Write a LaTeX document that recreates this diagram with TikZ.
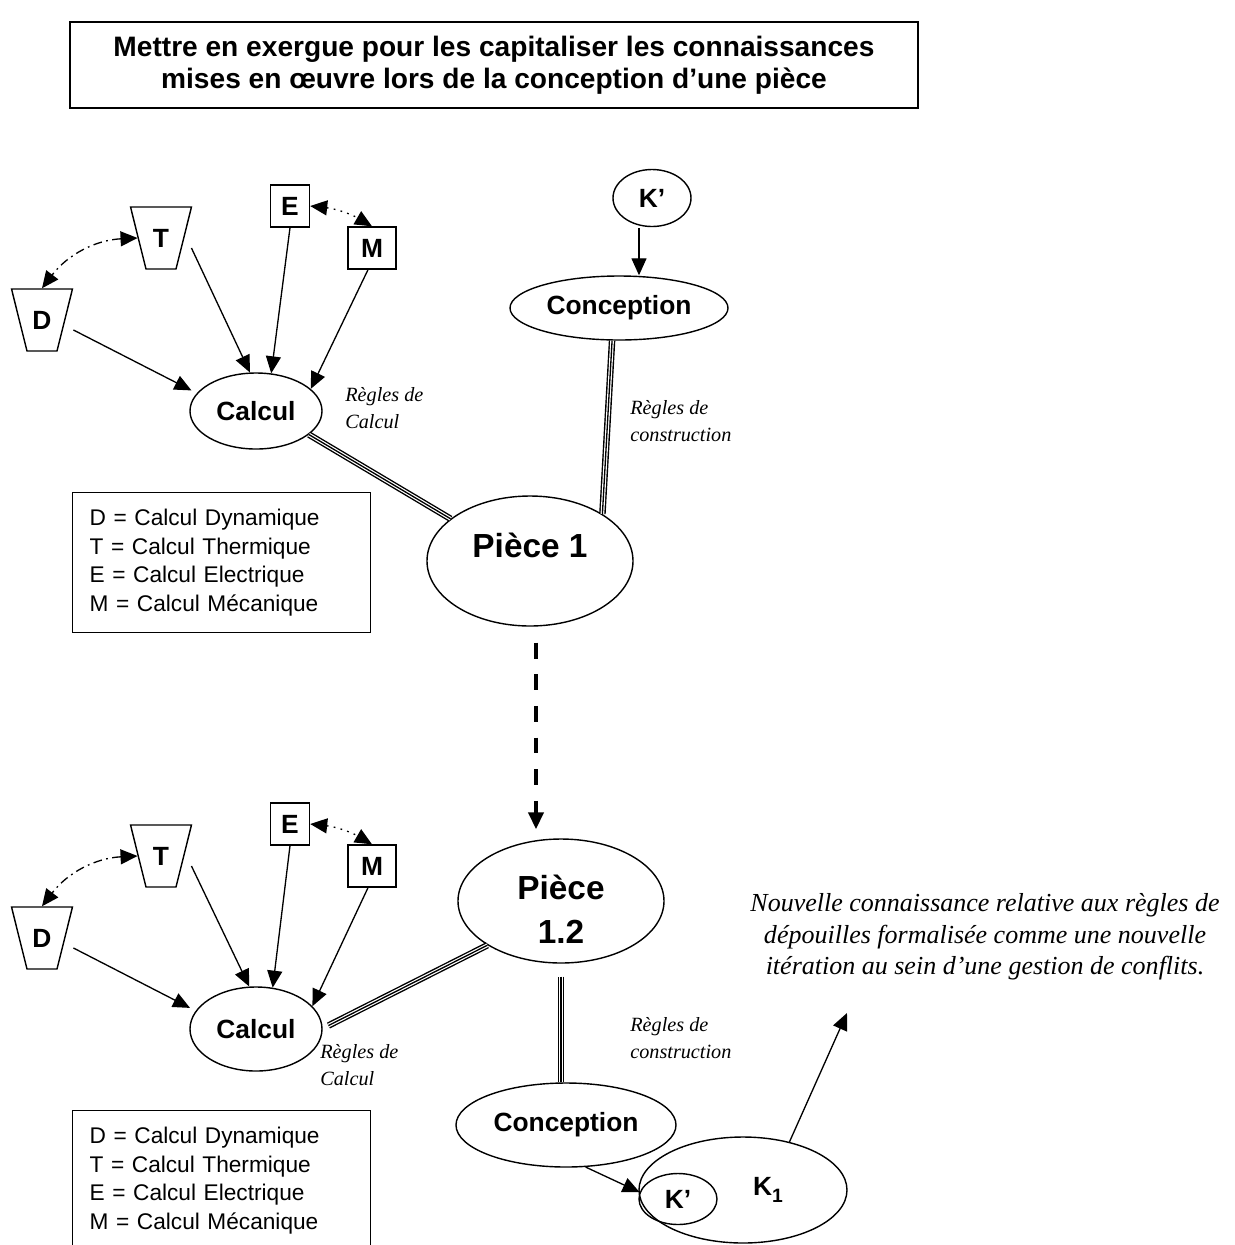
\documentclass[tikz,border=0pt]{standalone}
\usepackage{fontspec}
\setmainfont{Liberation Serif}
\setsansfont{Liberation Sans}
\usetikzlibrary{arrows.meta,shapes.geometric}

\tikzset{
  lbl/.style={font=\sffamily\bfseries\fontsize{15}{16}\selectfont},
  oval/.style={draw,ellipse,inner sep=0pt,line width=0.8pt},
  calc/.style={draw,inner sep=0pt,line width=0.8pt,minimum width=7.8mm,minimum height=8.4mm},
  trap/.style={draw,trapezium,shape border rotate=180,
    line width=0.8pt,inner sep=0pt,text width=6mm,align=center,
    text height=8.1mm,text depth=4.3mm,
    trapezium left angle=76,trapezium right angle=76},
  flow/.style={-{Triangle[length=3.4mm,width=3mm]},line width=0.75pt},
  both/.style={{Triangle[length=3.4mm,width=3mm]}-{Triangle[length=3.4mm,width=3mm]},line width=0.75pt},
  link/.style={line width=3.7pt,postaction={draw,white,line width=2.1pt},
    postaction={draw,black,line width=0.75pt}},
  regle/.style={font=\itshape\fontsize{11.5}{15}\selectfont,align=left,anchor=west,inner sep=0pt},
  legende/.style={draw,line width=0.8pt,minimum width=59.6mm,minimum height=28mm,anchor=north west,
    align=left,font=\sffamily\fontsize{12.9}{16.2}\selectfont,inner xsep=3.4mm,text width=52.8mm}
}

\begin{document}
\begin{tikzpicture}[x=0.2mm,y=-0.2mm]
\useasboundingbox (0,0) rectangle (1235,1245);
\clip (0,0) rectangle (1235,1245);

% title
\node[draw,line width=0.8pt,minimum width=169.6mm,minimum height=17.2mm,align=center,
  font=\sffamily\bfseries\fontsize{16}{18}\selectfont] (titre) at (494,65)
  {Mettre en exergue pour les capitaliser les connaissances\\
   mises en \oe uvre lors de la conception d'une pièce};

% ---- first part
\node[trap,lbl] (T) at (161,238) {T};
\node[trap,lbl] (D) at (42,320) {D};
\node[calc,lbl] (E) at (290,206) {E};
\node[calc,lbl,minimum width=9.6mm] (M) at (372,248) {M};
\node[oval,lbl,minimum width=26.4mm,minimum height=15.2mm] (calc1) at (256,411) {Calcul};

\draw[flow] (D.east) ++(8,10) -- ([xshift=-1.6mm]calc1.160);
\draw[flow] (T.east) ++(7,10) -- (calc1.99);
\draw[flow] (E.south) -- (calc1.68);
\draw[flow] (M.south) ++(-4,0) -- (calc1.22);
\draw[both,dash pattern=on 5pt off 2.5pt on 1pt off 2.5pt] (T.west) to[bend right=25] (D.north);
\draw[both,dash pattern=on 1pt off 3pt] (E.east) to[bend left=12] (M.north);

\node[oval,lbl,minimum width=15.6mm,minimum height=11.4mm] (kp1) at (652,198) {K'};
\node[oval,lbl,minimum width=43.6mm,minimum height=12.8mm] (conc1) at (619,308) {Conception};
\draw[flow] (kp1.south) ++(-13,1) -- (conc1.north -| 639,0);

\node[oval,minimum width=41.2mm,minimum height=26mm] (piece1) at (530,561) {};
\node[font=\sffamily\bfseries\fontsize{19}{20}\selectfont] (p1txt) at (530,545) {Pièce 1};

\draw[link] (calc1.-24) -- (piece1.152);
\draw[link] (conc1.-102) -- (piece1.33);

\node[regle] (rc1) at (345,408) {Règles de\\Calcul};
\node[regle] (rk1) at (630,421) {Règles de\\construction};

\node[legende] (leg1) at (72,492)
  {D = Calcul Dynamique\\T = Calcul Thermique\\E = Calcul Electrique\\M = Calcul Mécanique};

% ---- second part
\node[oval,minimum width=41.2mm,minimum height=24.8mm] (piece2) at (561,901) {};
\node[align=center,font=\sffamily\bfseries\fontsize{19}{25}\selectfont] (p2txt) at (561,909) {Pièce\\1.2};
\coordinate (dA) at ([xshift=1.2mm,yshift=-3.2mm]piece1.south);
\coordinate (dB) at ([yshift=1.8mm]piece2.north);
\draw[-{Triangle[length=3.4mm,width=3mm]},line width=2.3pt,dash pattern=on 9pt off 9pt]
  (dA) -- (dA |- dB);

\node[trap,lbl] (T2) at (161,856) {T};
\node[trap,lbl] (D2) at (42,938) {D};
\node[calc,lbl] (E2) at (290,824) {E};
\node[calc,lbl,minimum width=9.6mm] (M2) at (372,866) {M};
\node[oval,lbl,minimum width=26.4mm,minimum height=16.8mm] (calc2) at (256,1029) {Calcul};

\draw[flow] (D2.east) ++(8,10) -- ([xshift=-1.6mm]calc2.160);
\draw[flow] (T2.east) ++(7,10) -- (calc2.99);
\draw[flow] (E2.south) -- (calc2.68);
\draw[flow] (M2.south) ++(-4,0) -- (calc2.22);
\draw[both,dash pattern=on 5pt off 2.5pt on 1pt off 2.5pt] (T2.west) to[bend right=25] (D2.north);
\draw[both,dash pattern=on 1pt off 3pt] (E2.east) to[bend left=12] (M2.north);

\node[oval,lbl,minimum width=44mm,minimum height=16.8mm] (conc2) at (566,1125) {Conception};
\node[oval,minimum width=41.6mm,minimum height=21.2mm] (k1) at (743,1190) {};
\node[lbl] (k1txt) at (768,1190) {K\raisebox{-0.45ex}{\fontsize{11}{11}\selectfont 1}};
\node[oval,lbl,minimum width=15.6mm,minimum height=10.2mm] (kp2) at (678,1199) {K'};

\draw[link] ([xshift=1.2mm]calc2.3) -- (piece2.-149);
\coordinate (p2b) at ([yshift=-2.6mm]piece2.south);
\draw[link] (p2b) -- (p2b |- conc2.north);
\draw[flow] (conc2.-65) -- (kp2.170);

\node[regle] (rc2) at (320,1065) {Règles de\\Calcul};
\node[regle] (rk2) at (630,1038) {Règles de\\construction};

\node[legende] (leg2) at (72,1110)
  {D = Calcul Dynamique\\T = Calcul Thermique\\E = Calcul Electrique\\M = Calcul Mécanique};

\node[align=center,font=\itshape\fontsize{14.8}{18}\selectfont] (note) at (985,937)
  {Nouvelle connaissance relative aux règles de\\
   dépouilles formalisée comme une nouvelle\\
   itération au sein d'une gestion de conflits.};
\coordinate (noteTip) at (847,1013);
\draw[flow] (k1.46) -- (noteTip);
\end{tikzpicture}
\end{document}
